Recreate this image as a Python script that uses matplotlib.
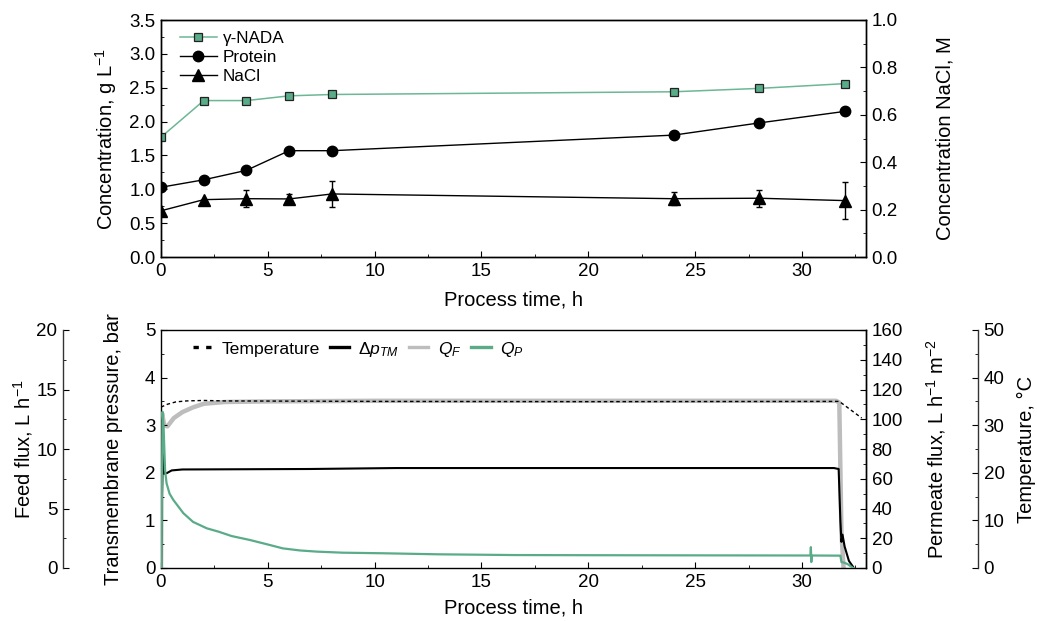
import matplotlib
matplotlib.use("Agg")
import matplotlib.pyplot as plt
from matplotlib.ticker import MultipleLocator, FormatStrFormatter
from matplotlib.lines import Line2D

plt.rcParams["font.family"] = ["Liberation Sans", "DejaVu Sans"]
plt.rcParams["mathtext.fontset"] = "custom"
plt.rcParams["mathtext.rm"] = "Liberation Sans"
plt.rcParams["mathtext.it"] = "Liberation Sans:italic"
plt.rcParams["mathtext.bf"] = "Liberation Sans:bold"
plt.rcParams["font.size"] = 13.5
plt.rcParams["axes.labelsize"] = 14.5
plt.rcParams["xtick.labelsize"] = 13.5
plt.rcParams["ytick.labelsize"] = 13.5
plt.rcParams["xtick.direction"] = "in"
plt.rcParams["ytick.direction"] = "in"
plt.rcParams["xtick.major.size"] = 4
plt.rcParams["ytick.major.size"] = 4
plt.rcParams["xtick.minor.size"] = 2.5
plt.rcParams["ytick.minor.size"] = 2.5
plt.rcParams["xtick.major.pad"] = 4
plt.rcParams["ytick.major.pad"] = 4
plt.rcParams["axes.linewidth"] = 1.0

# ---- sampled concentrations (upper panel) ----
sample_time = [0, 2, 4, 6, 8, 24, 28, 32]
nada_conc = [1.77, 2.31, 2.31, 2.38, 2.40, 2.44, 2.49, 2.56]
protein_conc = [1.03, 1.14, 1.28, 1.57, 1.57, 1.80, 1.98, 2.15]
nacl_conc = [0.195, 0.242, 0.246, 0.245, 0.266, 0.246, 0.248, 0.238]
nacl_err = [0.0, 0.0, 0.035, 0.02, 0.055, 0.028, 0.035, 0.077]

# ---- online process records (lower panel) ----
temp_time = [0, 0.3, 0.7, 1.2, 2.0, 3.0, 10, 20, 31.75, 32.2, 32.8]
temp_val = [33.8, 34.4, 34.9, 35.1, 35.2, 35.1, 35.0, 34.95, 35.0, 33.5, 31.5]

tmp_time = [0, 0.03, 0.08, 0.15, 0.3, 0.5, 1.0, 7, 11, 31.5, 31.72, 31.8, 31.85, 31.9,
            32.0, 32.2, 32.4]
tmp_val = [0, 1.2, 2.4, 1.98, 2.0, 2.05, 2.07, 2.08, 2.1, 2.1, 2.08, 1.0, 0.55, 0.7,
           0.45, 0.15, 0.02]

qf_time = [0, 0.05, 0.15, 0.3, 0.6, 1.0, 1.5, 2.0, 3.0, 5, 10, 20, 31.6, 31.75,
           31.85, 31.95]
qf_val = [0, 13.0, 12.0, 11.9, 12.6, 13.1, 13.5, 13.8, 13.95, 14.0, 14.05, 14.05,
          14.05, 13.9, 3.0, 0]

qp_time = [0, 0.02, 0.07, 0.12, 0.19, 0.26, 0.4, 0.58, 1.05, 1.5, 2.14, 2.7, 3.3,
           4.17, 5.0, 5.7, 6.5, 7.3, 8.5, 10.4, 13, 16.6, 20, 25, 30.4, 30.42,
           30.44, 30.46, 31.8, 31.85, 32.0, 32.15, 32.4]
qp_val = [0, 0, 105, 95, 66, 57, 50, 45.7, 36.8, 31, 26.7, 24.4, 21.5,
          18.8, 15.8, 13.2, 11.8, 11.0, 10.3, 9.9, 9.2, 8.7, 8.6, 8.5, 8.4, 14,
          4, 8.4, 8.3, 4.0, 3.5, 2.5, 0]

green = "#5aab88"
green_line = "#6cb796"
gray = "#bdbdbd"

fig = plt.figure(figsize=(10.37, 6.21), dpi=100)
ax1 = fig.add_axes([161 / 1037, 1 - 257 / 621, 705 / 1037, 237 / 621])
ax2 = fig.add_axes([161 / 1037, 1 - 568 / 621, 705 / 1037, 238 / 621])

# ---------------- upper panel ----------------
ax1.plot(sample_time, nada_conc, color=green_line, lw=1.1, marker="s", ms=6.2,
         mfc=green, mec="#222222", mew=0.9, zorder=3)
ax1.plot(sample_time, protein_conc, color="k", lw=1.0, marker="o", ms=7.5, zorder=3)
ax1.set_xlim(0, 33)
ax1.set_ylim(0, 3.5)
ax1.xaxis.set_major_locator(MultipleLocator(5))
ax1.xaxis.set_minor_locator(MultipleLocator(2.5))
ax1.yaxis.set_major_locator(MultipleLocator(0.5))
ax1.yaxis.set_minor_locator(MultipleLocator(0.25))
ax1.yaxis.set_major_formatter(FormatStrFormatter("%.1f"))
ax1.set_xlabel("Process time, h", labelpad=8)
ax1.set_ylabel(r"Concentration, g L$^{\mathregular{-1}}$", labelpad=7)

ax1r = ax1.twinx()
ax1r.errorbar(sample_time, nacl_conc, yerr=nacl_err, color="k", lw=1.0, marker="^",
              ms=8, capsize=2.5, elinewidth=1.0, capthick=1.0)
ax1r.set_ylim(0, 1.0)
ax1r.yaxis.set_major_locator(MultipleLocator(0.2))
ax1r.yaxis.set_minor_locator(MultipleLocator(0.1))
ax1r.yaxis.set_major_formatter(FormatStrFormatter("%.1f"))
ax1r.set_ylabel("Concentration NaCl, M", labelpad=27)

top_handles = [
    Line2D([], [], color=green_line, lw=1.1, marker="s", ms=6.2, mfc=green,
           mec="#222222", mew=0.9),
    Line2D([], [], color="k", lw=1.0, marker="o", ms=7.5),
    Line2D([], [], color="k", lw=1.0, marker="^", ms=8),
]
ax1r.legend(top_handles, ["γ-NADA", "Protein", "NaCl"], loc="upper left",
            bbox_to_anchor=(171 / 1037, 1 - 22 / 621), bbox_transform=fig.transFigure,
            frameon=False, fontsize=12.3, borderpad=0, handlelength=2.2,
            handletextpad=0.35, labelspacing=0.25)

# ---------------- lower panel ----------------
ax_ff = ax2.twinx()
ax_perm = ax2.twinx()
ax_temp = ax2.twinx()
ax_ff.set_zorder(1)
ax_temp.set_zorder(2)
ax2.set_zorder(3)
ax_perm.set_zorder(4)
for a in (ax2, ax_ff, ax_perm, ax_temp):
    a.patch.set_visible(False)

ax_ff.plot(qf_time, qf_val, color=gray, lw=3.2, solid_joinstyle="round")
ax_temp.plot(temp_time, temp_val, color="k", lw=1.0, ls=(0, (2.5, 2.0)))
ax2.plot(tmp_time, tmp_val, color="k", lw=1.5)
ax_perm.plot(qp_time, qp_val, color=green, lw=1.6)

ax2.set_xlim(0, 33)
ax2.set_ylim(0, 5)
ax2.xaxis.set_major_locator(MultipleLocator(5))
ax2.xaxis.set_minor_locator(MultipleLocator(2.5))
ax2.yaxis.set_major_locator(MultipleLocator(1))
ax2.yaxis.set_minor_locator(MultipleLocator(0.5))
ax2.set_xlabel("Process time, h", labelpad=6)
ax2.set_ylabel("Transmembrane pressure, bar", labelpad=16)

# feed flux axis, pulled out to the left
ax_ff.set_ylim(0, 20)
ax_ff.yaxis.tick_left()
ax_ff.yaxis.set_label_position("left")
for s in ("top", "bottom", "right"):
    ax_ff.spines[s].set_visible(False)
ax_ff.spines["left"].set_visible(True)
ax_ff.spines["left"].set_position(("axes", -98 / 705))
ax_ff.spines["left"].set_color("#333333")
ax_ff.yaxis.set_major_locator(MultipleLocator(5))
ax_ff.yaxis.set_minor_locator(MultipleLocator(2.5))
ax_ff.tick_params(axis="y", which="both", direction="in")
ax_ff.set_ylabel(r"Feed flux, L h$^{\mathregular{-1}}$", labelpad=1)

# permeate flux axis on the frame's right side
ax_perm.set_ylim(0, 160)
for s in ("top", "bottom", "left"):
    ax_perm.spines[s].set_visible(False)
ax_perm.yaxis.set_major_locator(MultipleLocator(20))
ax_perm.yaxis.set_minor_locator(MultipleLocator(10))
ax_perm.set_ylabel(r"Permeate flux, L h$^{\mathregular{-1}}$ m$^{\mathregular{-2}}$",
                   labelpad=15)

# temperature axis, pushed out to the right
ax_temp.set_ylim(0, 50)
for s in ("top", "bottom", "left"):
    ax_temp.spines[s].set_visible(False)
ax_temp.spines["right"].set_position(("axes", 1 + 112 / 705))
ax_temp.spines["right"].set_color("#333333")
ax_temp.yaxis.set_major_locator(MultipleLocator(10))
ax_temp.yaxis.set_minor_locator(MultipleLocator(5))
ax_temp.set_ylabel("Temperature, °C", labelpad=9)

for a in (ax2, ax_ff, ax_perm, ax_temp):
    a.set_xlim(0, 33)

bottom_handles = [
    Line2D([], [], color="k", lw=2.4, ls=(0, (1.6, 2.2))),
    Line2D([], [], color="k", lw=2.4),
    Line2D([], [], color=gray, lw=2.4),
    Line2D([], [], color=green, lw=2.4),
]
bottom_labels = ["Temperature", r"$\mathit{Δp}_{\mathit{TM}}$",
                 r"$\mathit{Q}_{\mathit{F}}$", r"$\mathit{Q}_{\mathit{P}}$"]
ax_perm.legend(bottom_handles, bottom_labels, loc="center left",
               bbox_to_anchor=(184 / 1037, 1 - 349 / 621),
               bbox_transform=fig.transFigure, ncol=4, frameon=False, fontsize=12.6,
               borderpad=0, handlelength=1.1, handletextpad=0.55, columnspacing=0.55)

fig.savefig("out.png", dpi=100, facecolor="white")
